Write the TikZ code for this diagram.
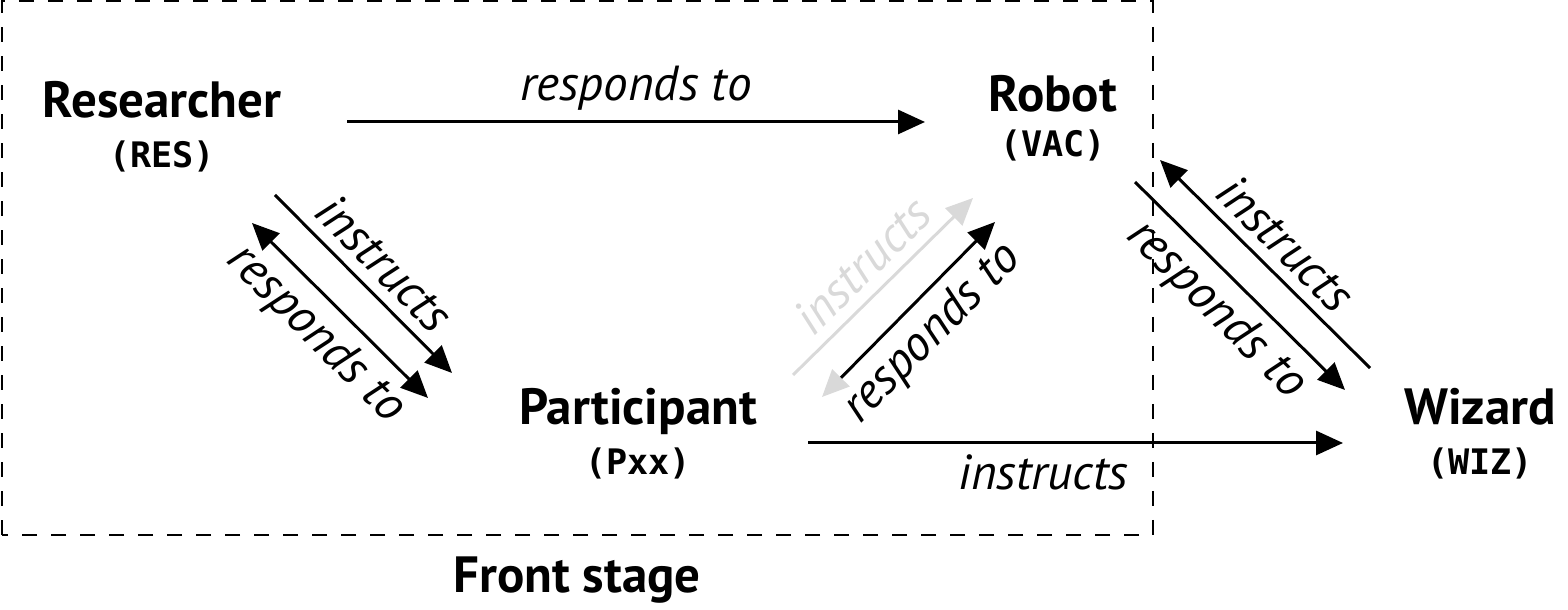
\documentclass[tikz,border=0pt]{standalone}
\usepackage{fontspec}
\setmainfont{PT Sans}
\setmonofont{DejaVu Sans Mono}
\usetikzlibrary{arrows.meta}

\begin{document}
\begin{tikzpicture}[>={Triangle[length=2.7mm,width=2.4mm]}, line width=0.85pt,
	actor/.style = {font=\fontsize{14.5}{17}\selectfont\bfseries, inner sep=0pt, anchor=base},
	code/.style = {font=\fontsize{10}{12}\selectfont\ttfamily\bfseries, inner sep=0pt, anchor=base},
	lab/.style = {font=\fontsize{14}{17}\selectfont\itshape, inner sep=3pt},
	faded/.style = {draw=gray!30, text=gray!30}
	]
	\useasboundingbox (0,0) rectangle (15.68,6.10);
	%Front stage
	\draw[dash pattern=on 1.5mm off 1.4mm, line width=0.6pt] (0.02,0.75) rectangle (11.53,6.09);
	\node[actor] (front) at (5.77,0.17) {Front stage};
	%Attori
	\node[actor] (res) at (1.62,4.92) {Researcher};
	\node[code] (resid) at (1.62,4.42) {(RES)};
	\node[actor] (rob) at (10.53,4.98) {Robot};
	\node[code] (robid) at (10.53,4.53) {(VAC)};
	\node[actor] (par) at (6.38,1.85) {Participant};
	\node[code] (parid) at (6.38,1.35) {(Pxx)};
	\node[actor] (wiz) at (14.80,1.85) {Wizard};
	\node[code] (wizid) at (14.80,1.35) {(WIZ)};
	%Estremi delle frecce
	\coordinate (rr1) at (3.47,4.88);
	\coordinate (rr2) at (9.25,4.88);
	\coordinate (pw1) at (8.08,1.67);
	\coordinate (pw2) at (13.43,1.67);
	\coordinate (rpi1) at (2.75,4.15);
	\coordinate (rpi2) at (4.52,2.37);
	\coordinate (rpr1) at (2.52,3.87);
	\coordinate (rpr2) at (4.28,2.12);
	\coordinate (pri1) at (7.93,2.35);
	\coordinate (pri2) at (9.73,4.12);
	\coordinate (prr1) at (8.22,2.13);
	\coordinate (prr2) at (9.95,3.88);
	\coordinate (rwi1) at (11.60,4.50);
	\coordinate (rwi2) at (13.70,2.42);
	\coordinate (rwr1) at (11.35,4.28);
	\coordinate (rwr2) at (13.45,2.20);
	%Orizzontali
	\draw[->] (rr1) -- (rr2) node[lab, midway, above] (rrl) {responds to};
	\draw[->] (pw1) -- (pw2) node[lab, pos=0.44, below] (pwl) {instructs};
	%Researcher - Participant
	\draw[->] (rpi1) -- (rpi2) node[lab, midway, sloped, above] (rpil) {instructs};
	\draw[<->] (rpr1) -- (rpr2) node[lab, midway, sloped, below] (rprl) {responds to};
	%Participant - Robot
	\draw[->, faded] (pri1) -- (pri2) node[lab, midway, sloped, above] (pril) {instructs};
	\draw[{Triangle[length=2.7mm,width=2.4mm,color=gray!30]}->] (prr1) -- (prr2) node[lab, midway, sloped, below] (prrl) {responds to};
	%Robot - Wizard
	\draw[<-] (rwi1) -- (rwi2) node[lab, midway, sloped, above] (rwil) {instructs};
	\draw[->] (rwr1) -- (rwr2) node[lab, midway, sloped, below] (rwrl) {responds to};
\end{tikzpicture}
\end{document}
